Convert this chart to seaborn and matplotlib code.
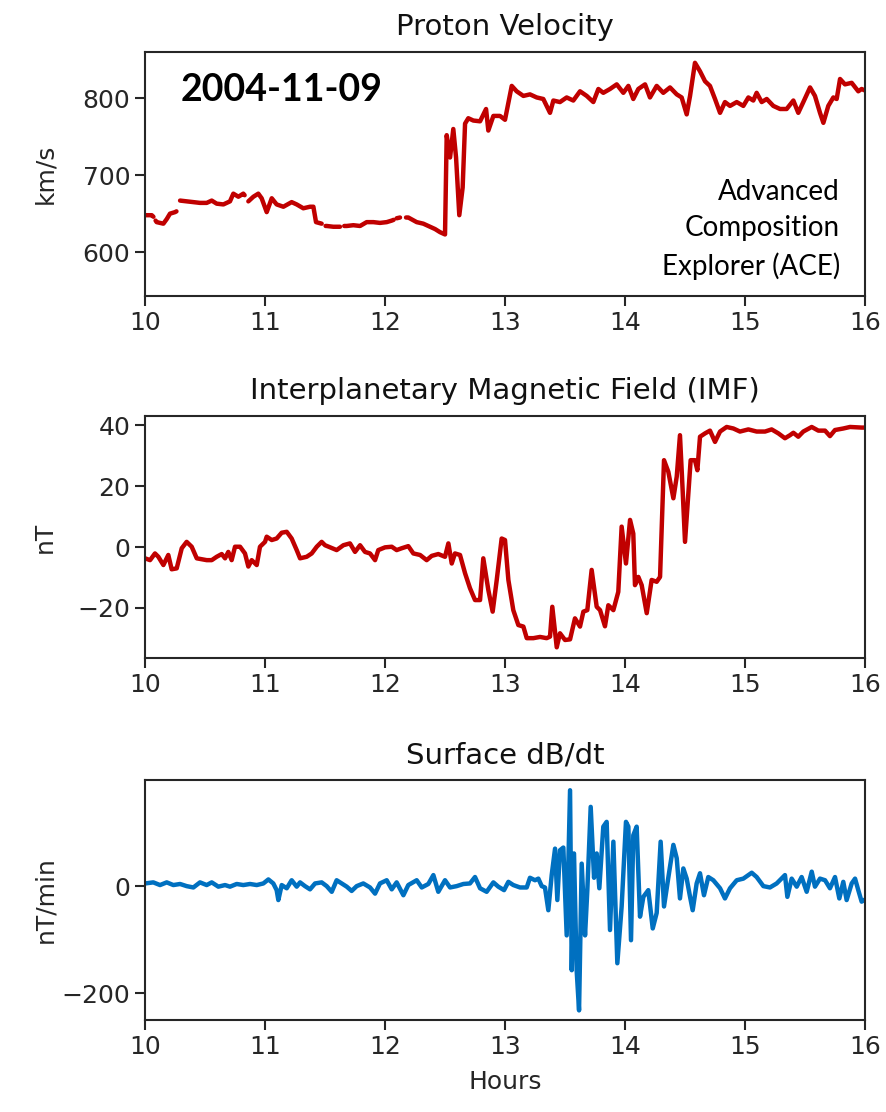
import numpy as np
import pandas as pd
import matplotlib
matplotlib.use("Agg")
import matplotlib.pyplot as plt
import seaborn as sns

# ---------------- data ----------------
vel_hours = [10.0, 10.056, 10.070, 10.078, 10.088, 10.097, 10.153, 10.181, 10.208, 10.25, 10.262, 10.28, 10.292,
             10.347, 10.403, 10.458, 10.514, 10.556, 10.597, 10.653, 10.708, 10.736, 10.778, 10.819,
             10.83, 10.85, 10.861, 10.903, 10.944, 10.972, 11.014, 11.056, 11.097, 11.153, 11.222, 11.264,
             11.319, 11.375, 11.403, 11.425, 11.472, 11.49, 11.505, 11.514, 11.569, 11.625, 11.64, 11.66,
             11.681, 11.736, 11.792, 11.847, 11.903, 11.958, 12.014, 12.056, 12.072, 12.085, 12.097,
             12.125, 12.145, 12.175, 12.194, 12.264, 12.319, 12.375, 12.417, 12.458, 12.5, 12.514, 12.542,
             12.569, 12.592, 12.619, 12.647, 12.667, 12.694, 12.736, 12.792, 12.842, 12.861, 12.903,
             12.958, 13.0, 13.056, 13.097, 13.153, 13.208, 13.264, 13.319, 13.375, 13.403, 13.458,
             13.514, 13.569, 13.625, 13.681, 13.736, 13.778, 13.819, 13.875, 13.931, 13.986, 14.028,
             14.069, 14.111, 14.167, 14.208, 14.264, 14.319, 14.375, 14.431, 14.472, 14.514, 14.542,
             14.583, 14.625, 14.667, 14.708, 14.75, 14.792, 14.833, 14.875, 14.931, 14.986, 15.028,
             15.069, 15.097, 15.139, 15.181, 15.236, 15.292, 15.347, 15.403, 15.444, 15.486, 15.542,
             15.583, 15.625, 15.653, 15.694, 15.736, 15.764, 15.792, 15.833, 15.889, 15.944, 15.972, 16.0]
vel_values = [648, 648, 646, np.nan, 641, 639, 637, 643, 650, 652, 653, np.nan, 667,
              666, 665, 664, 664, 667, 663, 662, 666, 676, 672, 676,
              674, np.nan, 666, 672, 676, 670, 652, 670, 662, 659, 665, 662,
              657, 659, 659, 639, 637, np.nan, 634, 634, 633, 633, np.nan, 634,
              634, 635, 634, 639, 639, 638, 639, 641, 642, np.nan, 644,
              645, np.nan, 645, 645, 639, 637, 633, 630, 626, 623, 752, 723,
              760, 723, 648, 684, 767, 774, 771, 770, 786, 758, 777,
              777, 772, 816, 809, 803, 805, 801, 799, 781, 797, 795,
              801, 797, 809, 803, 795, 812, 807, 812, 818, 807, 816,
              799, 812, 818, 801, 816, 807, 814, 805, 801, 779, 803,
              846, 835, 822, 816, 799, 781, 795, 790, 795, 790, 801,
              797, 807, 795, 799, 790, 786, 786, 797, 781, 795, 814,
              803, 781, 768, 790, 801, 799, 825, 818, 820, 809, 812, 810]

imf_hours = [10.0, 10.042, 10.083, 10.111, 10.153, 10.194, 10.222, 10.264, 10.306, 10.347, 10.389, 10.431,
             10.472, 10.514, 10.556, 10.597, 10.639, 10.667, 10.694, 10.722, 10.75, 10.792, 10.833,
             10.861, 10.889, 10.931, 10.958, 11.0, 11.014, 11.056, 11.097, 11.139, 11.181, 11.222,
             11.264, 11.292, 11.347, 11.389, 11.431, 11.472, 11.5, 11.542, 11.597, 11.653, 11.708,
             11.75, 11.792, 11.833, 11.875, 11.917, 11.944, 12.0, 12.056, 12.097, 12.139, 12.194,
             12.236, 12.292, 12.347, 12.389, 12.444, 12.5, 12.528, 12.556, 12.583, 12.625, 12.667,
             12.708, 12.75, 12.792, 12.819, 12.861, 12.897, 12.931, 12.972, 13.0, 13.028, 13.069,
             13.111, 13.153, 13.181, 13.236, 13.292, 13.347, 13.375, 13.394, 13.431, 13.458, 13.5,
             13.542, 13.583, 13.625, 13.653, 13.686, 13.722, 13.764, 13.792, 13.833, 13.861, 13.903,
             13.944, 13.972, 14.008, 14.042, 14.069, 14.083, 14.111, 14.139, 14.181, 14.222, 14.264,
             14.292, 14.325, 14.361, 14.403, 14.431, 14.458, 14.481, 14.5, 14.528, 14.547, 14.583,
             14.603, 14.625, 14.667, 14.708, 14.75, 14.792, 14.847, 14.903, 14.958, 15.028, 15.097,
             15.167, 15.222, 15.278, 15.333, 15.375, 15.403, 15.444, 15.486, 15.556, 15.611, 15.667,
             15.708, 15.75, 15.819, 15.875, 15.972, 16.0]
imf_values = [-3.7, -4.3, -2.1, -3.2, -5.9, -2.6, -7.3, -7.0, -0.4, 1.7, 0.1, -3.7,
              -4.0, -4.3, -4.3, -3.2, -2.3, -3.7, -1.6, -4.3, 0.1, 0.1, -2.1,
              -6.4, -4.3, -5.9, 0.1, 1.7, 3.4, 2.3, 2.8, 4.7, 5.0, 2.8,
              -1.0, -3.7, -3.2, -2.1, 0.1, 1.7, 0.6, -0.1, -1.0, 0.6, 1.2,
              -1.6, 0.6, -1.6, -2.1, -4.3, -1.0, -0.1, 0.1, -1.0, -0.4, 0.3,
              -2.1, -2.6, -4.3, -2.9, -2.3, -3.2, 1.2, -5.4, -2.1, -2.6, -8.6,
              -13.5, -17.4, -17.4, -3.7, -14.1, -21.2, -10.8, 2.8, 2.3, -10.8, -20.7,
              -25.6, -26.1, -29.9, -29.9, -29.5, -29.9, -29.4, -19.6, -32.9, -28.3, -30.5,
              -30.3, -23.4, -26.1, -21.2, -20.7, -7.5, -19.6, -20.7, -26.0, -19.1, -20.7,
              -14.7, 6.7, -5.4, 8.9, 4.4, -12.5, -9.8, -12.5, -21.7, -10.8, -11.4,
              -9.8, 28.5, 24.7, 16.0, 23.1, 36.7, 18.1, 1.7, 17.5, 28.5, 28.5,
              25.2, 36.2, 37.3, 38.2, 34.5, 37.9, 39.4, 38.9, 37.9, 38.6, 37.9,
              37.9, 38.6, 37.3, 35.7, 36.7, 37.5, 36.2, 37.9, 39.4, 38.2, 38.2,
              36.4, 38.4, 38.9, 39.4, 39.2, 39.2]

dbdt_hours = [10.0, 10.069, 10.125, 10.181, 10.236, 10.292, 10.347, 10.403, 10.458, 10.514, 10.556, 10.611,
              10.667, 10.708, 10.764, 10.819, 10.875, 10.931, 10.986, 11.028, 11.069, 11.097, 11.111,
              11.139, 11.181, 11.222, 11.264, 11.292, 11.333, 11.375, 11.417, 11.472, 11.514, 11.556,
              11.597, 11.639, 11.681, 11.722, 11.764, 11.819, 11.875, 11.917, 11.958, 12.014, 12.056,
              12.097, 12.153, 12.194, 12.264, 12.306, 12.361, 12.403, 12.444, 12.5, 12.542, 12.597,
              12.653, 12.708, 12.75, 12.792, 12.847, 12.903, 12.944, 12.992, 13.028, 13.069, 13.125,
              13.181, 13.208, 13.25, 13.278, 13.306, 13.333, 13.361, 13.389, 13.417, 13.436, 13.458,
              13.486, 13.514, 13.542, 13.556, 13.575, 13.597, 13.617, 13.639, 13.667, 13.686, 13.714,
              13.742, 13.764, 13.786, 13.819, 13.847, 13.875, 13.903, 13.936, 13.972, 14.008, 14.028,
              14.05, 14.069, 14.097, 14.125, 14.153, 14.194, 14.231, 14.264, 14.297, 14.325, 14.361,
              14.403, 14.431, 14.458, 14.486, 14.514, 14.542, 14.564, 14.597, 14.625, 14.658, 14.694,
              14.736, 14.792, 14.833, 14.875, 14.931, 14.986, 15.056, 15.097, 15.153, 15.208, 15.264,
              15.333, 15.353, 15.389, 15.431, 15.472, 15.514, 15.556, 15.583, 15.625, 15.667, 15.708,
              15.75, 15.786, 15.819, 15.847, 15.889, 15.917, 15.944, 15.972, 16.0]
dbdt_values = [5, 7, 2, 7, 2, 4, 0, -2.5, 7, 2, 7, -1,
               2, -1, 4, 2, 4, 2, 5, 12.5, 5, -7.5, -26,
               2, -4, 11, -1, 7, 0, -6, 5, 7, 0, -10.6,
               11, 5, -1, -9, 0, 5, -2.5, -14, 5, 11, -6,
               7, -17, 2, 11, -2.5, 4, 20.6, -10.6, 11, -2.5, 0,
               4, 5, 17, -4, -10.6, 7, -1, -7.5, 8, 2, -2.5,
               -2.5, 15.6, 11, 14, 0, -2.5, -45, 20.6, 70, -26, 67,
               72, -92, 179, -157, 61, -157, -232, 42, -92, -7.5, 148,
               15.6, 61, -4, 111, 120, -82, 83, -144, -38, 120, 111,
               -101, 95, 111, -57, -20, -7.5, -79, -50, 83, -38, 16,
               77, 52, -23, 33, 14, -20, -45, 5, 24, -17, 17,
               11, -4, -23, -4, 11, 14, 25, 17, 0, -2.5, 5,
               20.6, -20, 14, -1, 17, -10.6, 27, -1, 14, 11, -4,
               17, -23, 8, -26, 5, 14, -7.5, -29, -25]

hour_ticks = [10, 11, 12, 13, 14, 15, 16]
vel_ticks = [600, 700, 800]
imf_ticks = [-20, 0, 20, 40]
dbdt_ticks = [-200, 0]

titles = ["Proton Velocity", "Interplanetary Magnetic Field (IMF)", "Surface dB/dt"]
ylabels = ["km/s", "nT", "nT/min"]
date_text = "2004-11-09"
ace_text = "Advanced\nComposition\nExplorer (ACE)"

RED = "#C00000"
BLUE = "#0070C0"

# ---------------- style ----------------
sns.set_style("ticks")
plt.rcParams.update({
    "font.family": ["DejaVu Sans"],
    "axes.linewidth": 1.5,
    "axes.edgecolor": "#262626",
    "xtick.major.size": 7,
    "ytick.major.size": 7,
    "xtick.major.width": 1.5,
    "ytick.major.width": 1.5,
    "xtick.labelsize": 18,
    "ytick.labelsize": 18,
    "xtick.color": "#262626",
    "ytick.color": "#262626",
    "axes.labelsize": 18,
    "axes.labelcolor": "#262626",
    "axes.titlesize": 21,
    "axes.titlecolor": "#111111",
})

vel_df = pd.DataFrame({"hour": vel_hours, "value": vel_values})
vel_df["seg"] = vel_df["value"].isna().cumsum()
vel_df = vel_df.dropna()
imf_df = pd.DataFrame({"hour": imf_hours, "value": imf_values})
dbdt_df = pd.DataFrame({"hour": dbdt_hours, "value": dbdt_values})

fig = plt.figure(figsize=(8.87, 11.12), dpi=100)
ax1 = fig.add_axes([0.1635, 0.7338, 0.8117, 0.2194])
ax2 = fig.add_axes([0.1635, 0.4083, 0.8117, 0.2176])
ax3 = fig.add_axes([0.1635, 0.0827, 0.8117, 0.2158])

sns.lineplot(data=vel_df, x="hour", y="value", units="seg", estimator=None,
             color=RED, lw=3.2, ax=ax1)
sns.lineplot(data=imf_df, x="hour", y="value", color=RED, lw=3.2, ax=ax2)
sns.lineplot(data=dbdt_df, x="hour", y="value", color=BLUE, lw=3.2, ax=ax3)

ax1.set_ylim(543, 860)
ax2.set_ylim(-36.4, 43)
ax3.set_ylim(-250, 198)
ax1.set_yticks(vel_ticks)
ax2.set_yticks(imf_ticks)
ax3.set_yticks(dbdt_ticks)

for ax, t, yl in zip([ax1, ax2, ax3], titles, ylabels):
    ax.set_xlim(10, 16)
    ax.set_xticks(hour_ticks)
    ax.set_title(t, pad=12)
    ax.set_ylabel(yl)
    ax.set_xlabel("")
    ax.yaxis.set_label_coords(-0.122, 0.5)
    for s in ax.spines.values():
        s.set_visible(True)

ax3.set_xlabel("Hours", labelpad=8)

ax1.text(0.049, 0.845, date_text, transform=ax1.transAxes, fontsize=27,
         fontweight="bold", color="black", family=["Lato", "DejaVu Sans"],
         va="center", ha="left")
ax1.text(0.965, 0.065, ace_text, transform=ax1.transAxes, fontsize=20,
         color="black", family=["Lato", "DejaVu Sans"], va="bottom", ha="right",
         linespacing=1.5)

fig.savefig("out.png", dpi=100)
